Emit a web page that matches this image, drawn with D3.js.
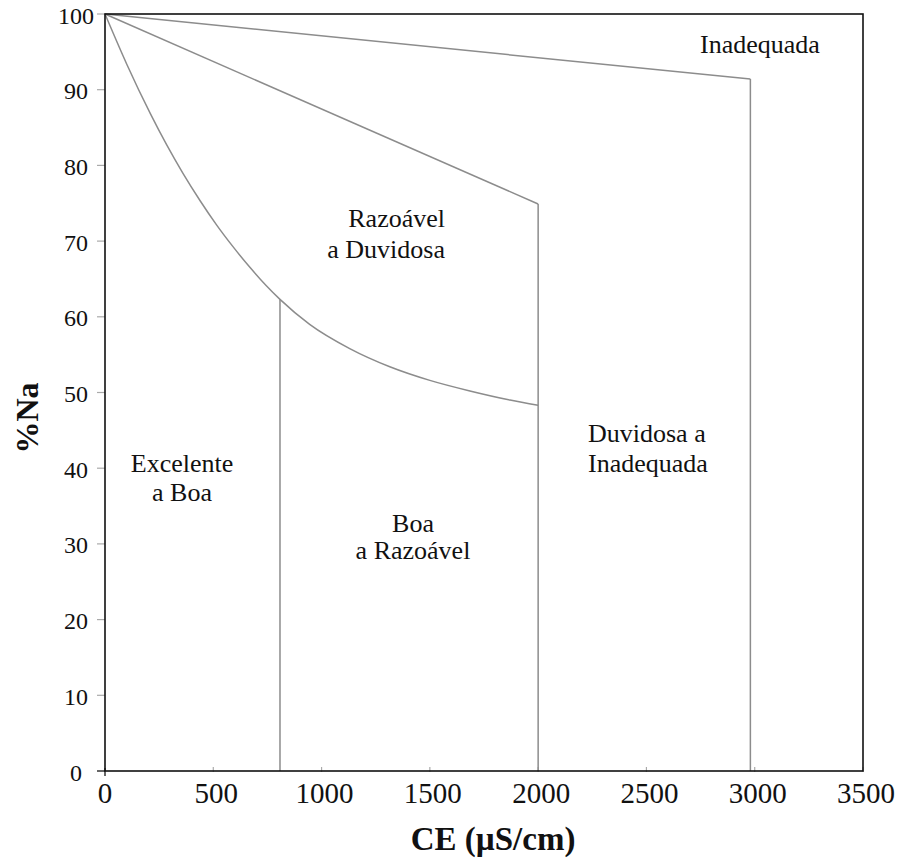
<!DOCTYPE html>
<html>
<head>
<meta charset="utf-8">
<script src="https://cdn.jsdelivr.net/npm/d3@7"></script>
<style>
  html, body { margin: 0; padding: 0; background: #fff; }
  svg { display: block; }
</style>
</head>
<body>
<svg id="chart" width="907" height="858"></svg>
<script>
// Wilcox-style classification: %Na against electrical conductivity (CE)
const xTicks = [0, 500, 1000, 1500, 2000, 2500, 3000, 3500];
const yTicks = [0, 10, 20, 30, 40, 50, 60, 70, 80, 90, 100];

// Boundary between "Excelente a Boa"/"Boa a Razoável" and "Razoável a Duvidosa"
const lowerCurve = [
  [0, 100], [100, 93.4], [210, 86.8], [285, 82.7], [360, 78.95], [440, 75.3],
  [515, 72.15], [590, 69.3], [670, 66.5], [745, 64.1], [808, 62.3],
  [945, 59.0], [1130, 55.8], [1315, 53.4], [1500, 51.6], [1685, 50.2],
  [1870, 49.0], [2000, 48.3]
];
// Boundary between "Razoável a Duvidosa" and "Duvidosa a Inadequada"
const middleLine = [[0, 100], [2000, 74.9]];
// Boundary between "Duvidosa a Inadequada" and "Inadequada"
const upperLine = [[0, 100], [2980, 91.4]];

// Vertical class limits (CE value, %Na where they meet a boundary)
const dividerCE = [808, 2000, 2980];
const dividerTop = [62.3, 74.9, 91.4];

const regionNames = [
  ["Inadequada"],
  ["Razoável", "a Duvidosa"],
  ["Excelente", "a Boa"],
  ["Boa", "a Razoável"],
  ["Duvidosa a", "Inadequada"]
];

const xTitle = "CE (\u00B5S/cm)";
const yTitle = "%Na";

const svg = d3.select("#chart");
const x = d3.scaleLinear().domain([0, 3500]).range([105, 863]);
const y = d3.scaleLinear().domain([0, 100]).range([771, 14]);

const serif = "'Liberation Serif', 'Times New Roman', serif";
const lineColor = "#8c8c8c";

// tick marks
const gTicks = svg.append("g");
gTicks.selectAll("line.yt").data(yTicks).join("line")
  .attr("class", "yt")
  .attr("x1", x(0) - 8).attr("x2", x(0))
  .attr("y1", d => y(d)).attr("y2", d => y(d))
  .attr("stroke", d => d === 0 ? "#000" : "#aaa").attr("stroke-width", 1.2);
gTicks.selectAll("line.xt").data(xTicks).join("line")
  .attr("class", "xt")
  .attr("x1", d => x(d)).attr("x2", d => x(d))
  .attr("y1", d => d === 0 ? y(0) - 3 : y(0) - 4)
  .attr("y2", d => d === 0 ? y(0) + 5 : y(0) + 1)
  .attr("stroke", d => d === 0 ? "#000" : "#aaa").attr("stroke-width", 1.2);

// tick labels
svg.append("g").selectAll("text").data(yTicks).join("text")
  .attr("x", 76).attr("y", d => y(d) + 4)
  .attr("text-anchor", "middle").attr("dominant-baseline", "middle")
  .style("font-family", serif).style("font-size", "24px").attr("fill", "#111")
  .text(d => d);
svg.append("g").selectAll("text").data(xTicks).join("text")
  .attr("x", d => x(d) + (d === 0 ? 0 : 3)).attr("y", 803)
  .attr("text-anchor", "middle")
  .style("font-family", serif).style("font-size", "29px").attr("fill", "#111")
  .text(d => d);

// class boundaries
const gLines = svg.append("g").attr("fill", "none").attr("stroke", lineColor).attr("stroke-width", 1.5);
gLines.append("path")
  .attr("d", d3.line().x(d => x(d[0])).y(d => y(d[1])).curve(d3.curveMonotoneX)(lowerCurve));
gLines.append("path").attr("d", d3.line().x(d => x(d[0])).y(d => y(d[1]))(middleLine));
gLines.append("path").attr("d", d3.line().x(d => x(d[0])).y(d => y(d[1]))(upperLine));
gLines.selectAll("line").data(dividerCE).join("line")
  .attr("x1", d => x(d)).attr("x2", d => x(d))
  .attr("y1", (d, i) => y(dividerTop[i])).attr("y2", y(0));

// frame
svg.append("rect")
  .attr("x", x(0)).attr("y", y(100))
  .attr("width", x(3500) - x(0)).attr("height", y(0) - y(100))
  .attr("fill", "none").attr("stroke", "#111").attr("stroke-width", 1.6);

// region labels
const placements = [
  { x: 760, y: 53, anchor: "middle", dy: [0] },
  { x: 445, y: 227, anchor: "end", dy: [0, 31] },
  { x: 182, y: 472, anchor: "middle", dy: [0, 28.5] },
  { x: 413, y: 532, anchor: "middle", dy: [0, 27] },
  { x: 588, y: 442, anchor: "start", dy: [0, 30] }
];
const gLabels = svg.append("g")
  .style("font-family", serif).style("font-size", "26px").attr("fill", "#111");
regionNames.forEach((lines, i) => {
  const p = placements[i];
  const t = gLabels.append("text").attr("text-anchor", p.anchor);
  lines.forEach((s, j) => {
    t.append("tspan").attr("x", p.x).attr("y", p.y + p.dy[j]).text(s);
  });
});

// axis titles
svg.append("text")
  .attr("x", 493).attr("y", 850).attr("text-anchor", "middle")
  .style("font-family", serif).style("font-size", "33px").style("font-weight", "bold")
  .attr("fill", "#111").text(xTitle);
svg.append("text")
  .attr("transform", "translate(38,418) rotate(-90)").attr("text-anchor", "middle")
  .style("font-family", serif).style("font-size", "32px").style("font-weight", "bold")
  .attr("fill", "#111").text(yTitle);
</script>
</body>
</html>
